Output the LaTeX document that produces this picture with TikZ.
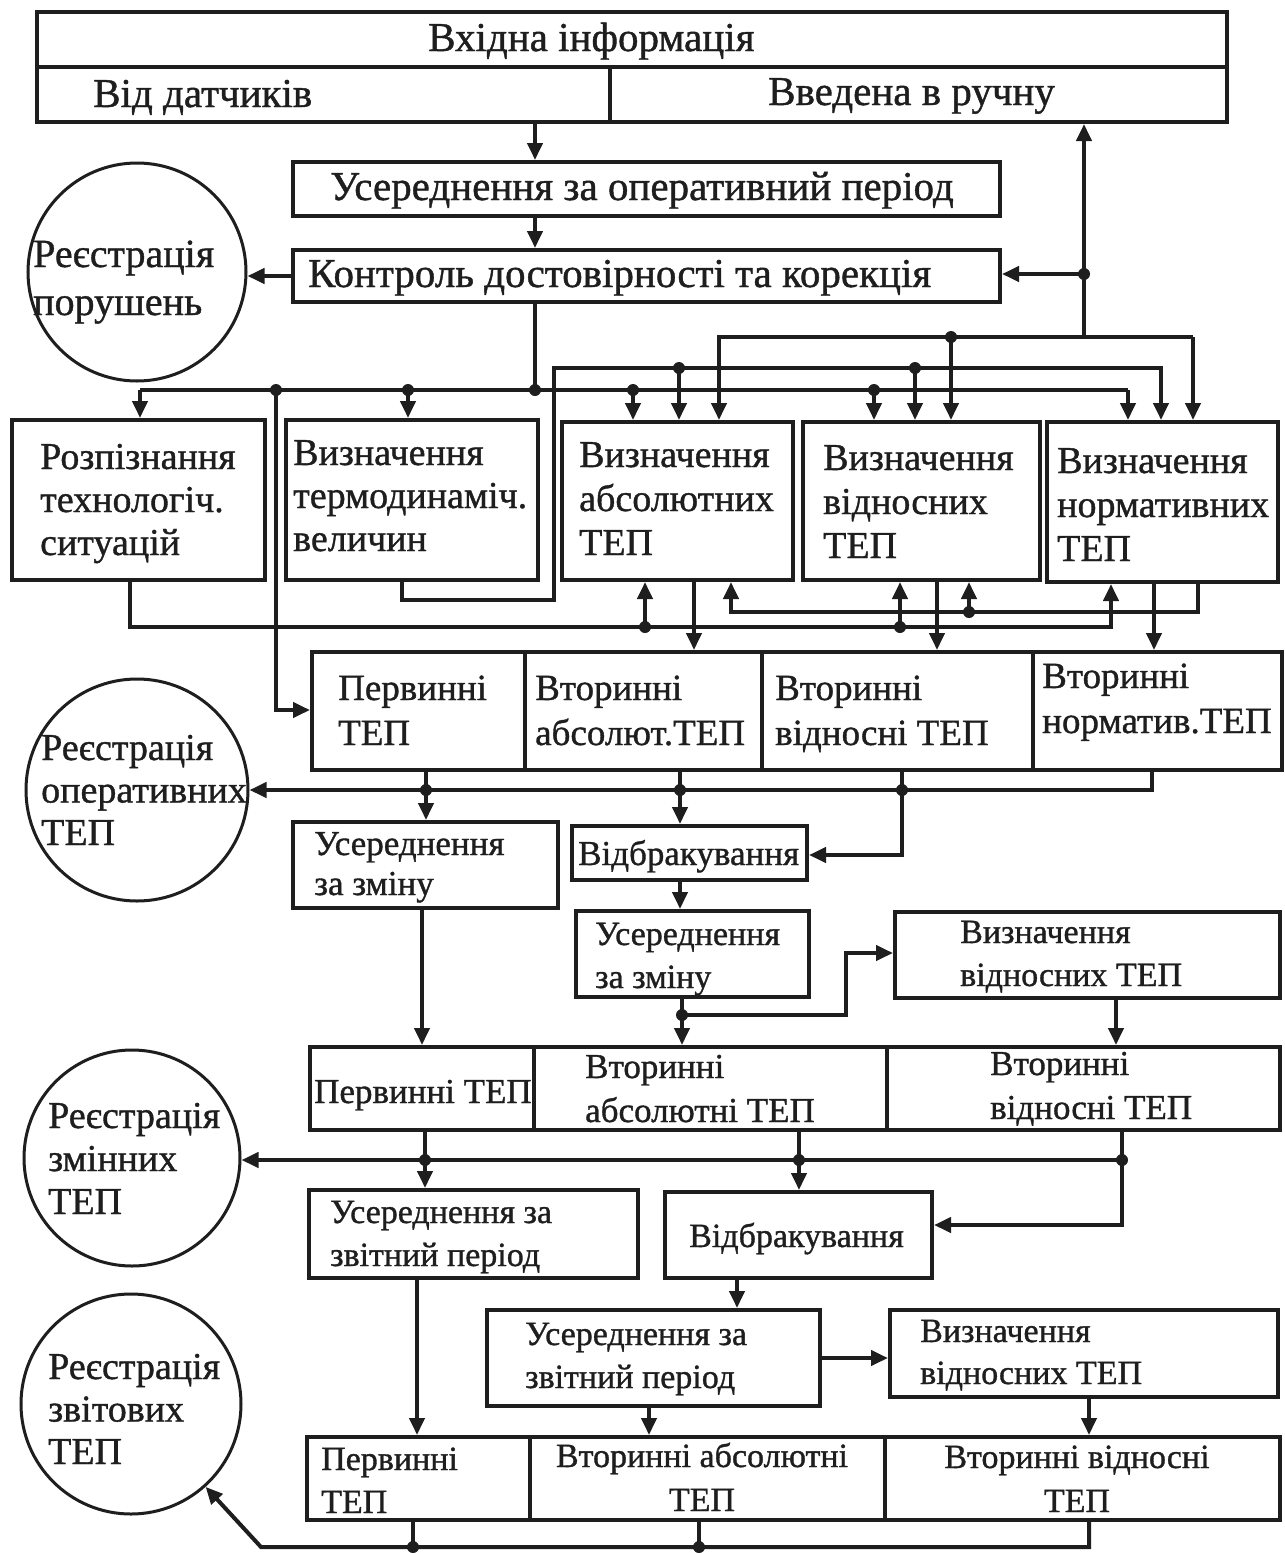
\documentclass[tikz,border=0pt]{standalone}
\usepackage{fontspec}
\setmainfont{Liberation Serif}[FakeBold=1]
\usetikzlibrary{arrows.meta,fit}
\definecolor{ink}{HTML}{1E1E1E}
\newcommand\tsz[2]{\fontsize{#1}{#2}\selectfont}
\begin{document}
\begin{tikzpicture}[x=1pt,y=-1pt,
  ln/.style={draw=ink, line width=4pt},
  arr/.style={ln, -{Triangle[length=17pt,width=15pt]}},
  box/.style={draw=ink, line width=4pt, inner sep=0pt},
  lbl/.style={inner sep=0pt, anchor=base west, align=left, text=ink},
  clbl/.style={inner sep=0pt, anchor=base, align=center, text=ink},
  dot/.style={circle, fill=ink, inner sep=0pt, minimum size=12pt},
  reg/.style={circle, draw=ink, line width=3pt, inner sep=0pt, minimum size=#1},
]
\fill[white] (0,0) rectangle (1285,1553);
\useasboundingbox (0,0) rectangle (1285,1553);
% labels are placed by the baseline of their last line

% ---------- input block ----------
\node[box, fit={(37,12)(1227,67)}] (inhead) {};
\node[box, fit={(37,67)(610,122)}] (insens) {};
\node[box, fit={(610,67)(1227,122)}] (inman) {};
\node[lbl, font=\tsz{41}{46}] (t-in) at (428,51) {Вхідна інформація};
\node[lbl, font=\tsz{41}{46}] (t-sens) at (93,107) {Від датчиків};
\node[lbl, font=\tsz{41}{46}] (t-man) at (768,105) {Введена в ручну};

\node[box, fit={(293,162)(1000,216)}] (avgop) {};
\node[lbl, font=\tsz{41}{46}] (t-avgop) at (330,200) {Усереднення за оперативний період};
\node[box, fit={(293,250)(1000,302)}] (ctrl) {};
\node[lbl, font=\tsz{41}{46}] (t-ctrl) at (308,287) {Контроль достовірності та корекція};

\node[reg=218pt] (regv) at (137,272) {};
\node[lbl, font=\tsz{40}{48}] (t-regv) at (33,315) {Реєстрація\\порушень};

% ---------- first processing row ----------
\node[box, fit={(12,420)(265,580)}] (recog) {};
\node[lbl, font=\tsz{38}{43}] (t-recog) at (40,555) {Розпізнання\\технологіч.\\ситуацій};
\node[box, fit={(286,420)(538,580)}] (thermo) {};
\node[lbl, font=\tsz{38}{43}] (t-thermo) at (293,551) {Визначення\\термодинаміч.\\величин};
\node[box, fit={(562,422)(793,580)}] (absd) {};
\node[lbl, font=\tsz{38}{44}] (t-absd) at (579,555) {Визначення\\абсолютних\\ТЕП};
\node[box, fit={(803,422)(1040,580)}] (reld) {};
\node[lbl, font=\tsz{38}{44}] (t-reld) at (823,558) {Визначення\\відносних\\ТЕП};
\node[box, fit={(1047,422)(1278,582)}] (normd) {};
\node[lbl, font=\tsz{38}{44}] (t-normd) at (1057,561) {Визначення\\нормативних\\ТЕП};

% ---------- operative TEP row ----------
\node[box, fit={(312,652)(525,770)}] (prim2) {};
\node[box, fit={(525,652)(762,770)}] (sabs2) {};
\node[box, fit={(762,652)(1033,770)}] (srel2) {};
\node[box, fit={(1033,652)(1282,770)}] (snorm2) {};
\node[lbl, font=\tsz{37}{45}] (t-prim2) at (338,745) {Первинні\\ТЕП};
\node[lbl, font=\tsz{37}{45}] (t-sabs2) at (535,745) {Вторинні\\абсолют.ТЕП};
\node[lbl, font=\tsz{37}{45}] (t-srel2) at (775,745) {Вторинні\\відносні ТЕП};
\node[lbl, font=\tsz{37}{45}] (t-snorm2) at (1042,733) {Вторинні\\норматив.ТЕП};

\node[reg=222pt] (regop) at (137,790) {};
\node[lbl, font=\tsz{38}{42.5}] (t-regop) at (41,845) {Реєстрація\\оперативних\\ТЕП};

% ---------- shift processing ----------
\node[box, fit={(293,822)(558,908)}] (avgsh1) {};
\node[lbl, font=\tsz{35}{40}] (t-avgsh1) at (314,895) {Усереднення\\за зміну};
\node[box, fit={(572,826)(807,880)}] (rej1) {};
\node[lbl, font=\tsz{35}{40}] (t-rej1) at (578,865) {Відбракування};
\node[box, fit={(576,911)(809,997)}] (avgsh2) {};
\node[lbl, font=\tsz{34}{43}] (t-avgsh2) at (595,988) {Усереднення\\за зміну};
\node[box, fit={(895,912)(1280,998)}] (relsh) {};
\node[lbl, font=\tsz{34}{43}] (t-relsh) at (960,986) {Визначення\\відносних ТЕП};

\node[box, fit={(310,1047)(534,1130)}] (prim3) {};
\node[box, fit={(534,1047)(887,1130)}] (sabs3) {};
\node[box, fit={(887,1047)(1280,1130)}] (srel3) {};
\node[lbl, font=\tsz{35}{44}] (t-prim3) at (314,1103) {Первинні ТЕП};
\node[lbl, font=\tsz{35}{44}] (t-sabs3) at (585,1122) {Вторинні\\абсолютні ТЕП};
\node[lbl, font=\tsz{35}{44}] (t-srel3) at (990,1119) {Вторинні\\відносні ТЕП};

\node[reg=216pt] (regsh) at (132,1158) {};
\node[lbl, font=\tsz{38}{43}] (t-regsh) at (48,1214) {Реєстрація\\змінних\\ТЕП};

% ---------- reporting period ----------
\node[box, fit={(309,1190)(638,1278)}] (avgrep1) {};
\node[lbl, font=\tsz{34}{43}] (t-avgrep1) at (330,1266) {Усереднення за\\звітний період};
\node[box, fit={(665,1192)(932,1278)}] (rej2) {};
\node[lbl, font=\tsz{34}{43}] (t-rej2) at (689,1247) {Відбракування};
\node[box, fit={(487,1310)(820,1406)}] (avgrep2) {};
\node[lbl, font=\tsz{34}{43}] (t-avgrep2) at (525,1388) {Усереднення за\\звітний період};
\node[box, fit={(890,1310)(1278,1397)}] (relrep) {};
\node[lbl, font=\tsz{34}{42}] (t-relrep) at (920,1384) {Визначення\\відносних ТЕП};

\node[box, fit={(307,1437)(530,1520)}] (prim5) {};
\node[box, fit={(530,1437)(885,1520)}] (sabs5) {};
\node[box, fit={(885,1437)(1280,1520)}] (srel5) {};
\node[lbl, font=\tsz{34}{43}] (t-prim5) at (321,1513) {Первинні\\ТЕП};
\node[clbl, font=\tsz{34}{44}] (t-sabs5) at (702,1511) {Вторинні абсолютні\\ТЕП};
\node[clbl, font=\tsz{34}{44}] (t-srel5) at (1077,1512) {Вторинні відносні\\ТЕП};

\node[reg=220pt] (regrep) at (131,1404) {};
\node[lbl, font=\tsz{38}{42.5}] (t-regrep) at (48,1464) {Реєстрація\\звітових\\ТЕП};

% ---------- connectors: input and control ----------
\coordinate (s1) at (535,122);
\draw[arr] (s1) -- (s1 |- avgop.north);
\coordinate (s2) at (535,216);
\draw[arr] (s2) -- (s2 |- ctrl.north);
\draw[arr] (ctrl.west) -- (regv.east |- ctrl.west);

% main distribution bus
\coordinate (b0) at (535,390);
\coordinate (bL) at (140,390);
\coordinate (bR) at (1128,390);
\coordinate (b1) at (276,390);
\coordinate (b2) at (408,390);
\coordinate (b3) at (633,390);
\coordinate (b4) at (874,390);
\coordinate (b1d) at (276,710);
\draw[ln] (b0 |- ctrl.south) -- (b0);
\draw[ln] (bL) -- (bR);
\draw[arr] (bL) -- (bL |- recog.north);
\draw[arr] (b2) -- (b2 |- thermo.north);
\draw[arr] (b3) -- (b3 |- absd.north);
\draw[arr] (b4) -- (b4 |- reld.north);
\draw[arr] (bR) -- (bR |- normd.north);
\draw[arr] (b1) -- (b1d) -- (b1d -| prim2.west);

% thermodynamic values loop
\coordinate (tA) at (402,600);
\coordinate (tB) at (554,600);
\coordinate (tC) at (554,368);
\coordinate (tD) at (1161,368);
\coordinate (t1) at (679,368);
\coordinate (t2) at (915,368);
\draw[arr] (tA |- thermo.south) -- (tA) -- (tB) -- (tC) -- (tD) -- (tD |- normd.north);
\draw[arr] (t1) -- (t1 |- absd.north);
\draw[arr] (t2) -- (t2 |- reld.north);

% upper bus with feedback to the input
\coordinate (u1) at (719,337);
\coordinate (u2) at (1193,337);
\coordinate (u3) at (951,337);
\coordinate (u4) at (1084,337);
\coordinate (u5) at (1084,274);
\draw[arr] (u2) -- (u1) -- (u1 |- absd.north);
\draw[arr] (u2) -- (u2 |- normd.north);
\draw[arr] (u3) -- (u3 |- reld.north);
\draw[arr] (u4) -- (u4 |- inman.south);
\draw[arr] (u5) -- (u5 -| ctrl.east);

% recognition loop
\coordinate (r0) at (130,627);
\coordinate (r1) at (1111,627);
\coordinate (r2) at (645,627);
\coordinate (r3) at (900,627);
\draw[arr] (r0 |- recog.south) -- (r0) -- (r1) -- (r1 |- normd.south);
\draw[arr] (r2) -- (r2 |- absd.south);
\draw[arr] (r3) -- (r3 |- reld.south);

% normative loop
\coordinate (n0) at (1198,612);
\coordinate (n1) at (731,612);
\coordinate (n2) at (969,612);
\draw[arr] (n0 |- normd.south) -- (n0) -- (n1) -- (n1 |- absd.south);
\draw[arr] (n2) -- (n2 |- reld.south);

% into the operative row
\coordinate (d1) at (694,600);
\coordinate (d2) at (937,600);
\coordinate (d3) at (1154,600);
\draw[arr] (d1 |- absd.south) -- (d1 |- sabs2.north);
\draw[arr] (d2 |- reld.south) -- (d2 |- srel2.north);
\draw[arr] (d3 |- normd.south) -- (d3 |- snorm2.north);

% operative bus
\coordinate (e0) at (1152,790);
\coordinate (e1) at (426,790);
\coordinate (e2) at (680,790);
\coordinate (e3) at (902,790);
\coordinate (e4) at (902,855);
\draw[arr] (e0 |- snorm2.south) -- (e0) -- (e0 -| regop.east);
\draw[arr] (e1 |- prim2.south) -- (e1 |- avgsh1.north);
\draw[arr] (e2 |- sabs2.south) -- (e2 |- rej1.north);
\draw[arr] (e3 |- srel2.south) -- (e4) -- (e4 -| rej1.east);

% shift block
\coordinate (f1) at (422,950);
\coordinate (f2) at (680,895);
\coordinate (g0) at (682,1015);
\coordinate (g1) at (846,1015);
\coordinate (g2) at (846,953);
\coordinate (f3) at (1116,1020);
\draw[arr] (f1 |- avgsh1.south) -- (f1 |- prim3.north);
\draw[arr] (f2 |- rej1.south) -- (f2 |- avgsh2.north);
\draw[arr] (g0 |- avgsh2.south) -- (g0 |- sabs3.north);
\draw[arr] (g0) -- (g1) -- (g2) -- (g2 -| relsh.west);
\draw[arr] (f3 |- relsh.south) -- (f3 |- srel3.north);

% shift bus
\coordinate (h0) at (1122,1160);
\coordinate (h1) at (1122,1225);
\coordinate (h2) at (425,1160);
\coordinate (h3) at (799,1160);
\draw[arr] (h0 |- srel3.south) -- (h1) -- (h1 -| rej2.east);
\draw[arr] (h0) -- (h0 -| regsh.east);
\draw[arr] (h2 |- prim3.south) -- (h2 |- avgrep1.north);
\draw[arr] (h3 |- sabs3.south) -- (h3 |- rej2.north);

% reporting block
\coordinate (k1) at (417,1300);
\coordinate (k2) at (737,1290);
\coordinate (k3) at (1089,1420);
\coordinate (k4) at (649,1420);
\draw[arr] (k1 |- avgrep1.south) -- (k1 |- prim5.north);
\draw[arr] (k2 |- rej2.south) -- (k2 |- avgrep2.north);
\draw[arr] (avgrep2.east) -- (avgrep2.east -| relrep.west);
\draw[arr] (k3 |- relrep.south) -- (k3 |- srel5.north);
\draw[arr] (k4 |- avgrep2.south) -- (k4 |- sabs5.north);

% reporting bus
\coordinate (v0) at (1089,1547);
\coordinate (v1) at (261,1547);
\coordinate (v2) at (413,1547);
\coordinate (v3) at (699,1547);
\draw[arr] (v0 |- srel5.south) -- (v0) -- (v1) -- (regrep.-48);
\draw[ln] (v2 |- prim5.south) -- (v2);
\draw[ln] (v3 |- sabs5.south) -- (v3);

% junction dots
\foreach \p in {b0,b1,b2,b3,b4,t1,t2,u3,u5,r2,r3,n2,e1,e2,e3,g0,h0,h2,h3,v2,v3}
  \node[dot] at (\p) {};
\end{tikzpicture}
\end{document}
